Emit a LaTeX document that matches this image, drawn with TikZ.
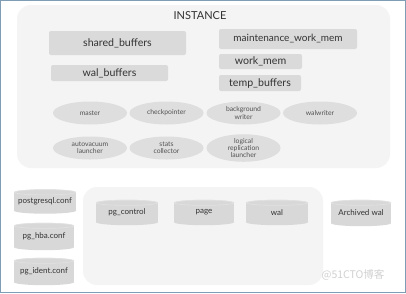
\documentclass[tikz,border=0pt]{standalone}
\usepackage{fontspec}
\setmainfont{Lato}
\newfontfamily\cjk{Noto Sans CJK SC}
\usetikzlibrary{shapes.geometric}
\pgfdeclarelayer{back}
\pgfdeclarelayer{mid}
\pgfsetlayers{back,mid,main}
\definecolor{framecol}{HTML}{7F9DB5}
\definecolor{panel}{HTML}{F4F4F4}
\definecolor{boxfill}{HTML}{DADADA}
\definecolor{procfill}{HTML}{DEDEDE}
\definecolor{drumbody}{HTML}{D8D8D8}
\definecolor{drumrim}{HTML}{E2E2E2}
\definecolor{inktext}{HTML}{333333}
\tikzset{
  panelbox/.style={fill=panel, rounded corners=14pt},
  membox/.style={rectangle, fill=boxfill, rounded corners=2pt, inner sep=0pt,
    text=inktext, font=\fontsize{10.6}{12}\selectfont},
  proc/.style={ellipse, fill=procfill, inner sep=0pt, minimum width=74pt,
    minimum height=23pt, text=inktext!85, align=center,
    font=\fontsize{6.8}{7.2}\selectfont},
  drumtext/.style={rectangle, inner sep=0pt, text=inktext,
    font=\fontsize{8}{9}\selectfont},
}
% storage drum: name, centre, width, height, label
\newcommand\drum[5]{%
  \node[drumtext, minimum width=#3pt, minimum height=#4pt] (#1) at (#2) {#5};
  \begin{pgfonlayer}{mid}
    \fill[drumbody] ([yshift=-3pt]#1.north west) rectangle ([yshift=3pt]#1.south east);
    \fill[drumbody] ([yshift=3pt]#1.south) ellipse [x radius=#3pt/2, y radius=3pt];
    \fill[drumbody] ([yshift=-3pt]#1.north) ellipse [x radius=#3pt/2, y radius=3pt];
    \draw[drumrim, line width=0.6pt] ([yshift=-3pt]#1.north) ellipse [x radius=#3pt/2-0.4pt, y radius=2.6pt];
  \end{pgfonlayer}}
\begin{document}
\begin{tikzpicture}[x=1pt, y=-1pt]
  \useasboundingbox (0,0) rectangle (406,293);
  \begin{pgfonlayer}{back}
    \fill[white] (0,0) rectangle (406,293);
    % instance panel and data directory panel
    \fill[panelbox] (17,5) rectangle (390,168);
    \fill[panelbox] (83,187) rectangle (323,285);
  \end{pgfonlayer}
  \draw[framecol, line width=1pt] (0.5,0.5) rectangle (405.5,292.5);

  \node[text=inktext, font=\fontsize{11}{12}\selectfont] (inst) at (200,16) {INSTANCE};

  % memory areas
  \node[membox, minimum width=137pt, minimum height=24pt] (shared) at (117.5,43) {shared\_buffers};
  \node[membox, minimum width=117pt, minimum height=16pt] (walbuf) at (109.5,73) {wal\_buffers};
  \node[membox, minimum width=138pt, minimum height=20pt, font=\fontsize{10}{12}\selectfont] (mwm) at (288,39) {maintenance\_work\_mem};
  \node[membox, minimum width=83pt, minimum height=15pt] (workmem) at (260.5,61.5) {work\_mem};
  \node[membox, minimum width=82pt, minimum height=16pt] (tempbuf) at (260,83) {temp\_buffers};

  % background processes
  \node[proc] (master) at (90,113) {master};
  \node[proc] (ckpt) at (166.5,113) {checkpointer};
  \node[proc] (bgw) at (243.5,113) {background\\writer};
  \node[proc] (walw) at (320,113) {walwriter};
  \node[proc] (avl) at (90,148) {autovacuum\\launcher};
  \node[proc] (stats) at (166.5,148) {stats\\collector};
  \node[proc, minimum height=27pt] (lrl) at (243.5,148) {logical\\replication\\launcher};

  % configuration files
  \drum{pgconf}{45,201.5}{62}{24}{postgresql.conf}
  \drum{hba}{44,236.5}{60}{27}{pg\_hba.conf}
  \drum{ident}{44,271.5}{60}{27}{pg\_ident.conf}

  % data directory
  \drum{ctl}{127,212.5}{62}{25}{pg\_control}
  \drum{page}{204,212.5}{60}{25}{page}
  \drum{wal}{277,212.5}{62}{25}{wal}
  \drum{arch}{361,213}{60}{26}{Archived wal}

  \node[text=black!18, font=\cjk\fontsize{10.5}{12}\selectfont] (mark) at (353,275) {@51CTO博客};
\end{tikzpicture}
\end{document}
